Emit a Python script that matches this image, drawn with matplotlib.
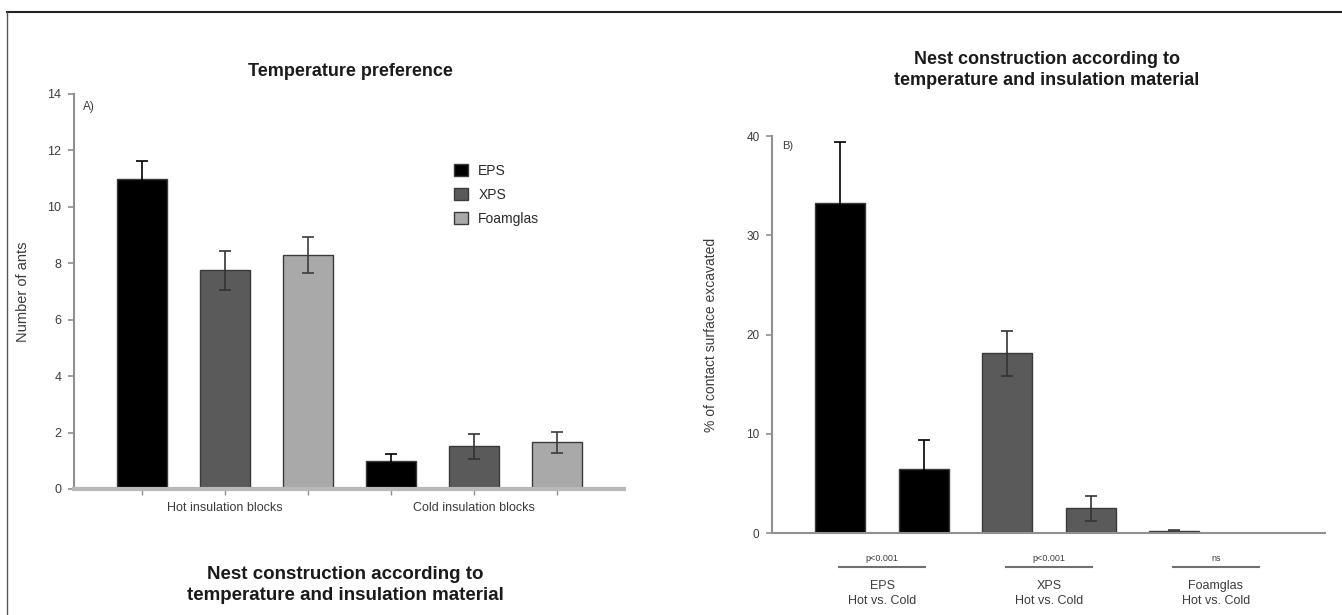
import matplotlib
matplotlib.use('Agg')
import matplotlib.pyplot as plt
from matplotlib.patches import Patch
from matplotlib.lines import Line2D
from matplotlib.transforms import blended_transform_factory

plt.rcParams['font.family'] = ['Liberation Sans', 'DejaVu Sans']

# panel A: temperature preference
materials = ['EPS', 'XPS', 'Foamglas']
blocks = ['Hot insulation blocks', 'Cold insulation blocks']
ants_hot = [11.0, 7.75, 8.28]
ants_hot_err = [0.63, 0.68, 0.64]
ants_cold = [1.0, 1.52, 1.65]
ants_cold_err = [0.24, 0.44, 0.38]

# panel B: nest construction
pairs = ['EPS\nHot vs. Cold', 'XPS\nHot vs. Cold', 'Foamglas\nHot vs. Cold']
p_values = ['p<0.001', 'p<0.001', 'ns']
dig_hot = [33.3, 18.1, 0.25]
dig_hot_err = [6.1, 2.3, 0.05]
dig_cold = [6.5, 2.5, 0.0]
dig_cold_err = [2.9, 1.25, 0.0]

colors = ['#000000', '#5a5a5a', '#a9a9a9']
err_colors = ['#000000', '#333333', '#3c3c3c']
edge = '#3a3a3a'
spine_col = '#909090'
text_col = '#3c3c3c'

fig = plt.figure(figsize=(13.42, 6.15), dpi=100)

# ---------- panel A ----------
axA = fig.add_axes([0.0551, 0.2049, 0.4098, 0.6423])
xs_hot = [0, 1, 2]
xs_cold = [3, 4, 5]
for i in range(3):
    axA.bar(xs_hot[i], ants_hot[i], 0.6, color=colors[i], edgecolor=edge, linewidth=1)
    axA.bar(xs_cold[i], ants_cold[i], 0.6, color=colors[i], edgecolor=edge, linewidth=1)
    axA.errorbar([xs_hot[i], xs_cold[i]], [ants_hot[i], ants_cold[i]],
                 yerr=[ants_hot_err[i], ants_cold_err[i]], fmt='none',
                 ecolor=err_colors[i], elinewidth=1.2, capsize=4, capthick=1.2)
axA.set_xlim(-0.82, 5.81)
axA.set_ylim(0, 14)
axA.set_yticks(range(0, 15, 2))
axA.set_xticks(xs_hot + xs_cold)
axA.set_xticklabels([])
axA.tick_params(axis='x', length=4, color=spine_col, width=1)
axA.tick_params(axis='y', length=4, color=spine_col, width=1.2, labelsize=9,
                labelcolor=text_col, pad=5)
for s in ['top', 'right']:
    axA.spines[s].set_visible(False)
axA.spines['left'].set_color(spine_col)
axA.spines['left'].set_linewidth(1.5)
axA.spines['bottom'].set_color('#b8b8b8')
axA.spines['bottom'].set_linewidth(3)
tr = blended_transform_factory(axA.transData, axA.transAxes)
for c, lab in zip([1, 4], blocks):
    axA.text(c, -0.048, lab, transform=tr, ha='center', va='center',
             fontsize=9, color=text_col)
axA.set_ylabel('Number of ants', fontsize=10.5, color=text_col)
axA.yaxis.set_label_coords(-0.08, 0.5)
axA.text(0.016, 0.967, 'A)', transform=axA.transAxes, fontsize=8.5,
         color=text_col, va='center')
handles = [Patch(facecolor=c, edgecolor=edge) for c in colors]
axA.legend(handles, materials, loc='upper left', frameon=False,
           bbox_to_anchor=(447 / 1342, 1 - 157 / 615), bbox_transform=fig.transFigure,
           handlelength=1.0, handleheight=1.0, handletextpad=0.75,
           labelspacing=0.72, borderpad=0, fontsize=10, labelcolor='#2a2a2a')
fig.text(350 / 1342, 1 - 71 / 615, 'Temperature preference', ha='center', va='center',
         fontsize=13, fontweight='bold', color='#1a1a1a')
fig.text(345 / 1342, 1 - 585 / 615,
         'Nest construction according to\ntemperature and insulation material',
         ha='center', va='center', fontsize=13.5, fontweight='bold',
         color='#1a1a1a', linespacing=1.3)

# ---------- panel B ----------
axB = fig.add_axes([0.5753, 0.1333, 0.4121, 0.6455])
for i in range(3):
    xh, xc = 2 * i, 2 * i + 1
    axB.bar(xh, dig_hot[i], 0.6, color=colors[i], edgecolor=edge, linewidth=1)
    axB.bar(xc, dig_cold[i], 0.6, color=colors[i], edgecolor=edge, linewidth=1)
    xs_err = [xh, xc] if dig_cold[i] > 0 else [xh]
    ys_err = [dig_hot[i], dig_cold[i]][:len(xs_err)]
    es_err = [dig_hot_err[i], dig_cold_err[i]][:len(xs_err)]
    axB.errorbar(xs_err, ys_err, yerr=es_err, fmt='none', ecolor=err_colors[i],
                 elinewidth=1.2, capsize=4, capthick=1.2)
axB.set_xlim(-0.82, 5.81)
axB.set_ylim(0, 40)
axB.set_yticks(range(0, 41, 10))
axB.set_xticks([])
axB.tick_params(axis='y', length=4, color=spine_col, width=1.2, labelsize=8.5,
                labelcolor=text_col, pad=5)
for s in ['top', 'right']:
    axB.spines[s].set_visible(False)
for s in ['left', 'bottom']:
    axB.spines[s].set_color(spine_col)
    axB.spines[s].set_linewidth(1.5)
axB.set_ylabel('% of contact surface excavated', fontsize=10, color=text_col)
axB.yaxis.set_label_coords(-0.098, 0.5)
axB.text(0.018, 0.975, 'B)', transform=axB.transAxes, fontsize=8,
         color=text_col, va='center')
trB = blended_transform_factory(axB.transData, axB.transAxes)
for k, (lab, pv) in enumerate(zip(pairs, p_values)):
    c = 2 * k + 0.5
    axB.text(c, -0.063, pv, transform=trB, ha='center', va='center',
             fontsize=6.5, color=text_col)
    axB.add_line(Line2D([c - 0.515, c + 0.515], [-0.086, -0.086], transform=trB,
                        color='#707070', linewidth=1.5, clip_on=False))
    axB.text(c, -0.152, lab, transform=trB, ha='center', va='center',
             fontsize=9, color=text_col, linespacing=1.3)
fig.text(1047 / 1342, 1 - 70 / 615,
         'Nest construction according to\ntemperature and insulation material',
         ha='center', va='center', fontsize=13, fontweight='bold',
         color='#1a1a1a', linespacing=1.25)

# frame lines at top and left edge
fig.add_artist(Line2D([7 / 1342, 1], [1 - 12 / 615, 1 - 12 / 615],
                      transform=fig.transFigure, color='#222222', linewidth=1.5))
fig.add_artist(Line2D([7 / 1342, 7 / 1342], [0, 1 - 12 / 615],
                      transform=fig.transFigure, color='#555555', linewidth=1.0))

fig.savefig('out.png', dpi=100)
